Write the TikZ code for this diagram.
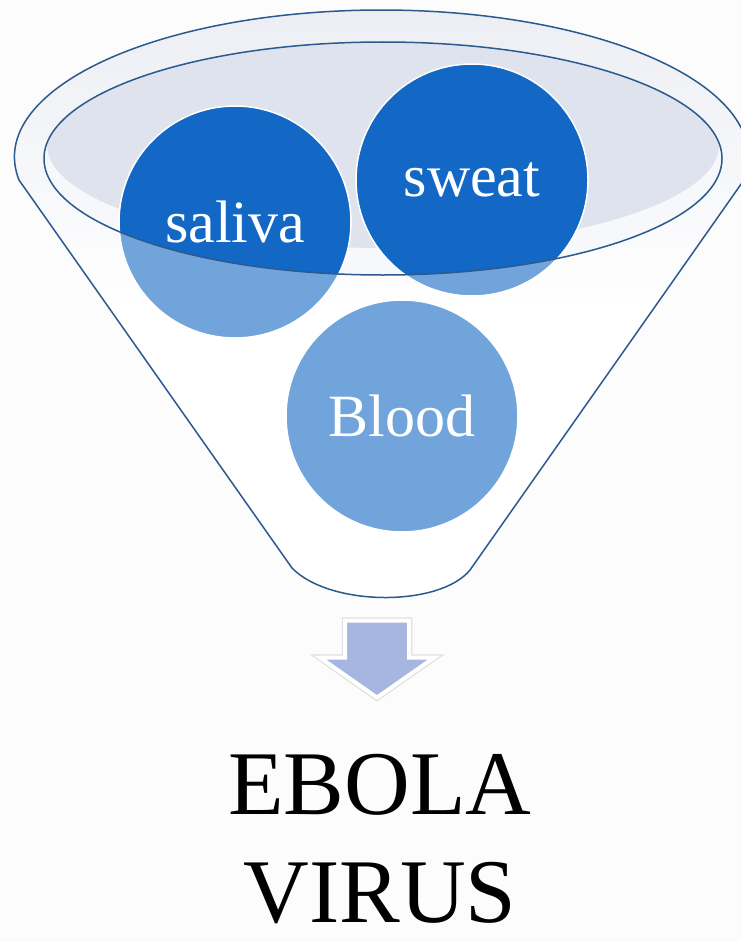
\documentclass[tikz,border=0pt]{standalone}
\usepackage{fontspec}
\setmainfont{Liberation Serif}
\usetikzlibrary{shapes.arrows,positioning}
\definecolor{funneldark}{HTML}{1268C4}
\definecolor{funnelline}{HTML}{2A5A8E}
\definecolor{ringgray}{HTML}{DFE3EC}
\definecolor{mouthgray}{HTML}{DEE3EE}
\definecolor{mouthlight}{HTML}{F7F8FB}
\definecolor{arrowblue}{HTML}{A7B6E0}
\definecolor{pagebg}{HTML}{FCFCFC}
\tikzstyle{drop} = [circle, minimum size=232pt, inner sep=0pt, fill=funneldark, draw=white, line width=1.5pt, text=white, font=\fontsize{60}{66}\selectfont]

\begin{document}
\begin{tikzpicture}[x=1pt, y=-1pt,
  funnel body/.style={insert path={(19,180) arc[start angle=171, end angle=369, x radius=367, y radius=147] -- (470,570) .. controls (440,607) and (330,607) .. (292,568) -- cycle}},
  mouth/.style={insert path={(383,158.5) ellipse[x radius=339, y radius=116.5]}}]
\useasboundingbox[fill=pagebg] (0,0) rectangle (741,942);

% funnel behind the drops
\shade[top color=ringgray, bottom color=white, middle color=white, funnel body];
\begin{scope}
  \clip[mouth];
  \fill[mouthlight, mouth];
  \fill[mouthgray] (383,145) ellipse[x radius=336, y radius=103];
\end{scope}

\node[drop] (saliva) at (235,222) {saliva};
\node[drop] (sweat) at (472,180) {sweat};
\node[drop] (blood) at (402,416) {Blood};

% glass of the funnel
\fill[white, opacity=0.4, even odd rule, funnel body, mouth];
\draw[funnelline, line width=1.5pt, line join=round, funnel body];
\draw[funnelline, line width=1.5pt, mouth];

\node[single arrow, rotate=-90, anchor=tip, fill=arrowblue, draw=white, line width=4pt,
  preaction={draw=black!12, line width=6.5pt}, inner sep=0pt, text height=30pt, text depth=30pt,
  single arrow head extend=25pt, single arrow tip angle=110, minimum height=77pt] (down) at (377,700) {};

\node[font=\fontsize{91}{108}\selectfont, align=center, anchor=north, inner sep=0pt] (virus) at (380,754) {EBOLA\\VIRUS};
\end{tikzpicture}
\end{document}
